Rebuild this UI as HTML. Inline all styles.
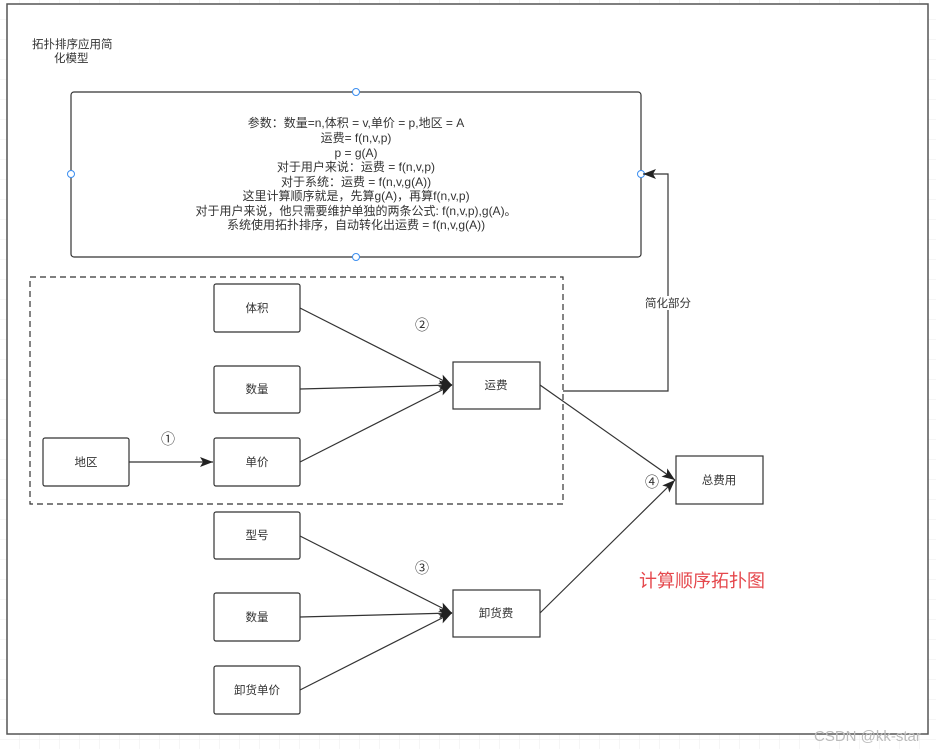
<!DOCTYPE html>
<html><head><meta charset="utf-8"><style>
html,body{margin:0;padding:0;background:#fff}
svg{display:block}
text{font-family:"Liberation Sans","Noto Sans CJK SC",sans-serif;fill:#333}
</style></head><body>
<svg width="936" height="749" viewBox="0 0 936 749" xmlns="http://www.w3.org/2000/svg">
<defs>
<pattern id="g" width="20" height="20" patternUnits="userSpaceOnUse"><path d="M20 0V20H0" fill="none" stroke="#eee" stroke-width="1"/></pattern>
<marker id="a" markerWidth="14" markerHeight="12" refX="13" refY="6" orient="auto" markerUnits="userSpaceOnUse"><path d="M0,1 L13,6 L0,11 L3,6Z" fill="#222"/></marker>
</defs>
<rect width="936" height="749" fill="url(#g)"/>
<rect x="7" y="4" width="921" height="730" fill="#fff" stroke="#555" stroke-width="1.5"/>
<text x="32" y="48" font-size="11.5">拓扑排序应用简</text>
<text x="54" y="62" font-size="11.5">化模型</text>
<rect x="71" y="92" width="570" height="165" rx="3" fill="#fff" stroke="#333" stroke-width="1.2"/>
<g font-size="12" text-anchor="middle">
<text x="356" y="127">参数：数量=n,体积 = v,单价 = p,地区 = A</text>
<text x="356" y="142">运费= f(n,v,p)</text>
<text x="356" y="157">p = g(A)</text>
<text x="356" y="171">对于用户来说：运费 = f(n,v,p)</text>
<text x="356" y="186">对于系统：运费 = f(n,v,g(A))</text>
<text x="356" y="200">这里计算顺序就是，先算g(A)，再算f(n,v,p)</text>
<text x="356" y="215">对于用户来说，他只需要维护单独的两条公式: f(n,v,p),g(A)。</text>
<text x="356" y="229">系统使用拓扑排序，自动转化出运费 = f(n,v,g(A))</text>
</g>
<g fill="#fff" stroke="#3b8ef0" stroke-width="1">
<circle cx="356" cy="92" r="3.5"/><circle cx="356" cy="257" r="3.5"/><circle cx="71" cy="174" r="3.5"/><circle cx="641" cy="174" r="3.5"/>
</g>
<rect x="30" y="277" width="533" height="227" fill="none" stroke="#333" stroke-dasharray="6,4" stroke-width="1.2"/>
<g stroke="#333" stroke-width="1.2" fill="none" marker-end="url(#a)">
<line x1="300" y1="308" x2="452" y2="385"/>
<line x1="300" y1="389" x2="452" y2="385"/>
<line x1="300" y1="462" x2="452" y2="385"/>
<line x1="129" y1="462" x2="213" y2="462"/>
<line x1="300" y1="536" x2="452" y2="613"/>
<line x1="300" y1="617" x2="452" y2="613"/>
<line x1="300" y1="690" x2="452" y2="613"/>
<line x1="540" y1="385" x2="675" y2="480"/>
<line x1="540" y1="613" x2="675" y2="480"/>
<polyline points="563,391 668,391 668,174 643,174"/>
</g>
<rect x="640" y="296" width="56" height="14" fill="#fff"/>
<text x="668" y="307" font-size="11.5" text-anchor="middle">简化部分</text>
<g fill="#fff" stroke="#333" stroke-width="1.2">
<rect x="214" y="284" width="86" height="48" rx="2"/>
<rect x="214" y="366" width="86" height="47" rx="2"/>
<rect x="214" y="438" width="86" height="48" rx="2"/>
<rect x="43" y="438" width="86" height="48" rx="2"/>
<rect x="453" y="362" width="87" height="47"/>
<rect x="676" y="456" width="87" height="48"/>
<rect x="214" y="512" width="86" height="47" rx="2"/>
<rect x="214" y="593" width="86" height="48" rx="2"/>
<rect x="214" y="666" width="86" height="48" rx="2"/>
<rect x="453" y="590" width="87" height="47"/>
</g>
<g font-size="11.5" text-anchor="middle">
<text x="257" y="312">体积</text>
<text x="257" y="393">数量</text>
<text x="257" y="466">单价</text>
<text x="86" y="466">地区</text>
<text x="496" y="389">运费</text>
<text x="719" y="484">总费用</text>
<text x="257" y="539">型号</text>
<text x="257" y="621">数量</text>
<text x="257" y="694">卸货单价</text>
<text x="496" y="617">卸货费</text>
<text x="422" y="330" font-size="14">②</text>
<text x="168" y="444" font-size="14">①</text>
<text x="422" y="573" font-size="14">③</text>
<text x="652" y="487" font-size="14">④</text>
</g>
<text x="639" y="587" font-size="18" style="fill:#e5484d">计算顺序拓扑图</text>
<text x="814" y="741" font-size="15" style="fill:#bbb">CSDN @kk-star</text>
</svg>
</body></html>
